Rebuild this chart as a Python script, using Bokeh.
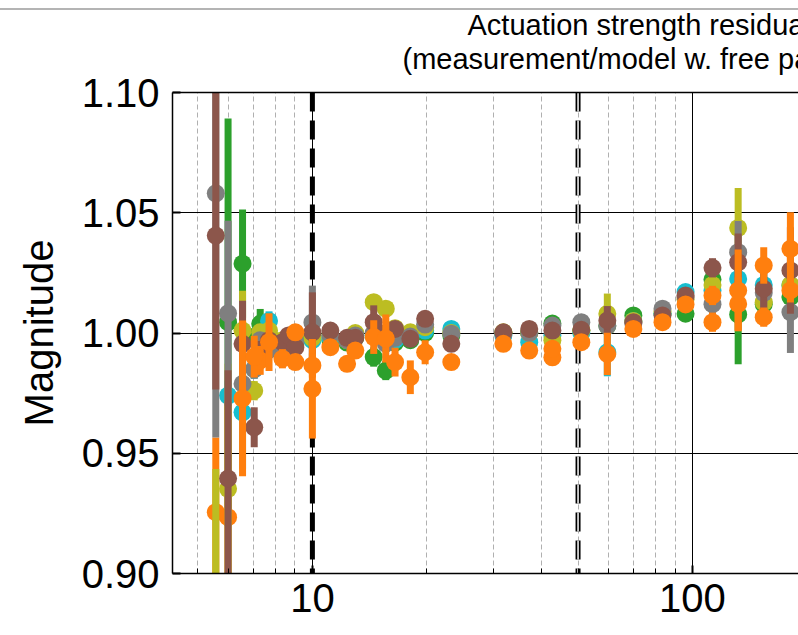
import numpy as np
from bokeh.plotting import figure
from bokeh.models import Span, FixedTicker, ColumnDataSource, PrintfTickFormatter, Title, LogAxis, InlineStyleSheet
from bokeh.embed import file_html
from bokeh.resources import INLINE

nan = float("nan")

# frequency points (Hz)
FREQ = [5.57, 6.0, 6.55, 7.03, 7.29, 7.69, 8.34, 8.65, 9.02, 10.0, 11.15, 12.34, 12.97,
        14.5, 15.6, 16.5, 18.1, 19.8, 23.2, 31.8, 37.2, 42.8, 51.0, 59.7, 69.9, 83.4,
        95.9, 112.9, 131.9, 154.0, 181.0]

green_val = [nan, 1.0045, 1.0288, 0.998, 1.0038, 0.999, 0.996, 0.995, 0.997, 0.999, 0.997, 0.996, 0.998,
             0.990, 0.9844, 0.996, 0.997, 1.000, 0.999, 1.000, 1.000, 1.0039, 1.001, 1.003, 1.0073, 1.008,
             1.008, 1.0222, 1.0077, 1.012, 1.015]
green_err = [nan, 0.0847, 0.0225, 0.004, 0.0062, 0.004, 0.003, 0.003, 0.003, 0.003, 0.003, 0.003, 0.003,
             0.004, 0.004, 0.003, 0.003, 0.002, 0.002, 0.002, 0.002, 0.002, 0.002, 0.002, 0.002, 0.002,
             0.002, 0.004, 0.0207, 0.005, 0.006]

cyan_val = [nan, 0.974, 0.967, 0.985, 0.990, 1.005, 0.992, 0.995, 0.996, 0.997, 0.998, 0.997, 0.999,
            0.999, 0.997, 0.997, 0.998, 1.001, 1.0017, 0.999, 0.9962, 0.999, 1.000, 0.992, 1.005, 1.008,
            1.017, 1.0177, 1.0225, 1.020, 1.0198]
cyan_err = [nan, 0.006, 0.0234, 0.004, 0.004, 0.004, 0.003, 0.003, 0.003, 0.003, 0.003, 0.003, 0.003,
            0.003, 0.003, 0.003, 0.003, 0.002, 0.002, 0.002, 0.002, 0.002, 0.002, 0.0100, 0.002, 0.002,
            0.003, 0.004, 0.006, 0.005, 0.006]

orange_c_val = [0.9255, 0.9234] + [nan] * 29
orange_c_err = [0.031, 0.048] + [nan] * 29

olive_val = [0.892, 0.9352, 1.001, 0.976, 1.0003, 1.001, 0.997, 0.996, 0.995, 0.998, 0.999, 0.997, 1.000,
             1.0128, 1.0101, 1.002, 1.0003, 1.0024, 1.000, 1.0003, 1.000, 0.997, 1.001, 1.008, 1.005, 1.009,
             1.014, 1.020, 1.0437, 1.0128, 1.020]
olive_err = [0.0514, 0.052, 0.0166, 0.004, 0.003, 0.003, 0.003, 0.003, 0.003, 0.003, 0.003, 0.003, 0.003,
             0.003, 0.003, 0.003, 0.003, 0.002, 0.002, 0.002, 0.002, 0.002, 0.002, 0.0084, 0.002, 0.002,
             0.003, 0.004, 0.0166, 0.005, 0.006]

gray_val = [1.0581, 1.0082, 0.9789, 0.985, 0.997, 0.993, 0.995, 0.998, 0.996, 1.0044, 0.999, 0.997, 0.999,
            1.000, 0.9956, 0.998, 0.9985, 1.0035, 0.9997, 0.9995, 1.000, 1.0031, 1.0045, 1.003, 1.004, 1.0101,
            1.015, 1.012, 1.0336, 1.0167, 1.0087]
gray_err = [0.1016, 0.0385, 0.004, 0.004, 0.003, 0.003, 0.003, 0.003, 0.003, 0.0153, 0.003, 0.003, 0.003,
            0.003, 0.003, 0.003, 0.003, 0.002, 0.002, 0.002, 0.002, 0.002, 0.002, 0.002, 0.002, 0.002,
            0.003, 0.006, 0.013, 0.006, 0.017]

brown_val = [1.0405, 0.9395, 0.9955, 0.9608, 0.993, 0.997, 0.9962, 0.999, 0.994, 1.0003, 1.001, 0.998, 0.998,
             1.0045, 1.000, 1.0017, 0.9976, 1.0059, 0.9955, 1.0003, 1.0017, 1.001, 1.0013, 1.0052, 1.0045,
             1.0073, 1.0156, 1.0271, 1.0294, 1.0184, 1.026]
brown_err = [0.064, 0.045, 0.0179, 0.0083, 0.003, 0.003, 0.003, 0.003, 0.003, 0.0166, 0.003, 0.003, 0.003,
             0.007, 0.003, 0.003, 0.003, 0.002, 0.002, 0.002, 0.002, 0.002, 0.002, 0.006, 0.002, 0.002,
             0.003, 0.004, 0.012, 0.009, 0.018]

orange_b_val = [nan, nan, 0.9728, nan, 0.9886, nan, 0.9893, nan, 0.9879, 0.9768, nan, 0.9872, nan,
                nan, nan, 0.9879, 0.9816, nan, 0.9879, 0.9955, 0.9927, 0.9899, 0.9962, 0.9913, 1.0017, 1.0045,
                1.0119, 1.0045, 1.0121, 1.0066, 1.0177]
orange_b_err = [nan, nan, 0.0324, nan, 0.006, nan, 0.004, nan, 0.003, 0.0207, nan, 0.003, nan,
                nan, nan, 0.006, 0.007, nan, 0.003, 0.002, 0.002, 0.002, 0.002, 0.0088, 0.002, 0.002,
                0.003, 0.004, 0.011, 0.004, 0.005]

orange_a_val = [nan, nan, nan, 0.9902, nan, 0.9962, nan, nan, 1.0003, 0.9865, 0.9941, nan, 0.9927,
                0.9983, 0.9977, nan, nan, 0.992, nan, nan, nan, 0.9934, nan, nan, nan, nan,
                nan, 1.0156, 1.0177, 1.0281, 1.035]
orange_a_err = [nan, nan, nan, 0.0087, nan, 0.012, nan, nan, 0.003, 0.005, 0.003, nan, 0.003,
                0.007, 0.01, nan, nan, 0.005, nan, nan, nan, 0.002, nan, nan, nan, nan,
                nan, 0.004, 0.017, 0.0076, 0.0152]

Y_TICKS = [0.90, 0.95, 1.00, 1.05, 1.10]
X_TICKS = [10, 100]
X_MINOR = [5, 6, 7, 8, 9, 20, 30, 40, 50, 60, 70, 80, 90, 200]
VLINES_SOLID = [10.0]
VLINES_HOLLOW = [50.0]
TITLE_LINE1 = "Actuation strength residuals"
TITLE_LINE2 = "(measurement/model w. free params)"

SERIES = [
    ("#2ca02c", green_val, green_err),
    ("#17becf", cyan_val, cyan_err),
    ("#ff7f0e", orange_c_val, orange_c_err),
    ("#bcbd22", olive_val, olive_err),
    ("#7f7f7f", gray_val, gray_err),
    ("#8c564b", brown_val, brown_err),
    ("#ff7f0e", orange_b_val, orange_b_err),
    ("#ff7f0e", orange_a_val, orange_a_err),
]

FONT = "Liberation Sans"

sheet = InlineStyleSheet(css=":host { background: linear-gradient(to bottom, #ffffff 0px, #ffffff 8px, "
                             "#b4b4b4 8px, #b4b4b4 10px, #ffffff 10px, #ffffff 100%); }")

p = figure(width=798, height=635, x_axis_type="log",
           x_range=(4.285, 190.1), y_range=(0.90, 1.10),
           output_backend="svg", toolbar_location=None,
           min_border_left=172, min_border_right=0, min_border_top=92, min_border_bottom=62,
           stylesheets=[sheet])
p.outline_line_color = None
p.background_fill_color = "white"
p.border_fill_color = None

xb = p.below[0]
yl = p.left[0]
x_ticker = FixedTicker(ticks=X_TICKS, minor_ticks=X_MINOR)
y_ticker = FixedTicker(ticks=Y_TICKS)

# top spine
top_axis = LogAxis(ticker=FixedTicker(ticks=[]), axis_line_color="black", axis_line_width=1.5,
                   major_tick_in=0, major_tick_out=0, major_tick_line_color=None,
                   minor_tick_line_color=None, major_label_text_color=None)
p.add_layout(top_axis, "above")

# two-line title, placed line by line (first added sits nearest the frame)
p.add_layout(Title(text=TITLE_LINE2, align="left", offset=230, vertical_align="bottom", standoff=36,
                   text_font=FONT, text_font_size="29px", text_font_style="normal",
                   text_color="black"), "above")
p.add_layout(Title(text=TITLE_LINE1, align="left", offset=295, vertical_align="bottom", standoff=-36,
                   text_font=FONT, text_font_size="29px", text_font_style="normal",
                   text_color="black"), "above")

# axes
xb.ticker = x_ticker
xb.formatter = PrintfTickFormatter(format="%d")
yl.ticker = y_ticker
yl.formatter = PrintfTickFormatter(format="%.2f")
for ax in (xb, yl):
    ax.axis_line_color = "black"
    ax.axis_line_width = 1.5
    ax.major_tick_in = 8
    ax.major_tick_out = 0
    ax.major_tick_line_width = 2
    ax.major_tick_line_color = "black"
    ax.minor_tick_in = 5
    ax.minor_tick_out = 0
    ax.minor_tick_line_color = "black"
    ax.major_label_text_font = FONT
    ax.major_label_text_font_size = "40px"
    ax.major_label_text_color = "black"
    ax.axis_label_text_font = FONT
    ax.axis_label_text_font_style = "normal"
    ax.axis_label_text_color = "black"
yl.minor_tick_line_color = None
xb.major_label_standoff = 10
yl.major_label_standoff = 13
yl.axis_label = "Magnitude"
yl.axis_label_text_font_size = "40px"
yl.axis_label_standoff = 18

# grids
p.ygrid.ticker = y_ticker
p.ygrid.grid_line_color = "black"
p.ygrid.grid_line_width = 1
p.xgrid.ticker = x_ticker
p.xgrid.grid_line_color = "black"
p.xgrid.grid_line_width = 1
p.xgrid.minor_grid_line_color = "#b0b0b0"
p.xgrid.minor_grid_line_width = 1
p.xgrid.minor_grid_line_dash = "5 3"

for loc in VLINES_SOLID:
    p.add_layout(Span(location=loc, dimension="height", line_color="black", line_width=5,
                      line_dash="19 9", level="underlay"))
for loc in VLINES_HOLLOW:
    p.add_layout(Span(location=loc, dimension="height", line_color="black", line_width=5,
                      line_dash="19 9", level="underlay"))
    p.add_layout(Span(location=loc, dimension="height", line_color="white", line_width=1.5,
                      line_dash="19 9", level="underlay"))

for color, vals, errs in SERIES:
    v = np.array(vals, dtype=float)
    e = np.array(errs, dtype=float)
    src = ColumnDataSource(dict(f=FREQ, v=v, lo=v - e, hi=v + e))
    p.segment(x0="f", y0="lo", x1="f", y1="hi", source=src, line_color=color, line_width=7)
    p.scatter(x="f", y="v", source=src, size=18, fill_color=color, line_color=None)

open("out.html", "w").write(file_html(p, INLINE))
